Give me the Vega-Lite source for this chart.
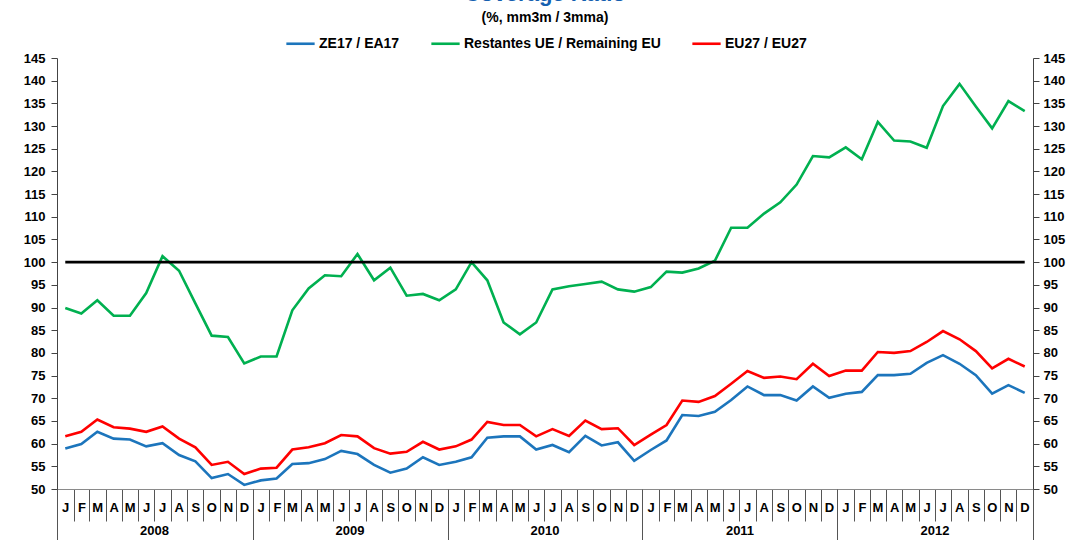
{
  "$schema": "https://vega.github.io/schema/vega-lite/v6.json",
  "width": 976,
  "height": 431,
  "autosize": {"type": "none"},
  "padding": {"left": 57, "top": 58, "right": 39, "bottom": 51},
  "background": "white",
  "title": {
    "text": "Coverage Ratio",
    "subtitle": "(%, mm3m / 3mma)",
    "anchor": "middle",
    "font": "Liberation Sans",
    "fontSize": 22,
    "fontWeight": "bold",
    "color": "#1560B0",
    "subtitleFont": "Liberation Sans",
    "subtitleFontSize": 14,
    "subtitleFontWeight": "bold",
    "subtitleColor": "black",
    "subtitlePadding": 5,
    "offset": 2
  },
  "config": {
    "view": {"stroke": null},
    "axis": {
      "grid": false,
      "title": null,
      "labelFont": "Liberation Sans",
      "labelFontWeight": "bold",
      "labelFontSize": 13,
      "labelColor": "black",
      "domainColor": "#555555",
      "tickColor": "#444444",
      "labelOverlap": false,
      "labelFlush": false,
      "labelBound": false
    }
  },
  "datasets": {
    "main": [
      {"m": "2008-01-01", "ze": 58.9, "ue": 89.9, "eu": 61.6},
      {"m": "2008-02-01", "ze": 59.9, "ue": 88.7, "eu": 62.6},
      {"m": "2008-03-01", "ze": 62.6, "ue": 91.6, "eu": 65.3},
      {"m": "2008-04-01", "ze": 61.1, "ue": 88.2, "eu": 63.6},
      {"m": "2008-05-01", "ze": 60.9, "ue": 88.2, "eu": 63.3},
      {"m": "2008-06-01", "ze": 59.4, "ue": 93.2, "eu": 62.6},
      {"m": "2008-07-01", "ze": 60.1, "ue": 101.3, "eu": 63.8},
      {"m": "2008-08-01", "ze": 57.5, "ue": 98.1, "eu": 61.1},
      {"m": "2008-09-01", "ze": 56.1, "ue": 90.9, "eu": 59.2},
      {"m": "2008-10-01", "ze": 52.4, "ue": 83.8, "eu": 55.3},
      {"m": "2008-11-01", "ze": 53.3, "ue": 83.5, "eu": 56.0},
      {"m": "2008-12-01", "ze": 50.9, "ue": 77.7, "eu": 53.3},
      {"m": "2009-01-01", "ze": 51.9, "ue": 79.2, "eu": 54.5},
      {"m": "2009-02-01", "ze": 52.3, "ue": 79.2, "eu": 54.7},
      {"m": "2009-03-01", "ze": 55.5, "ue": 89.4, "eu": 58.7},
      {"m": "2009-04-01", "ze": 55.7, "ue": 94.2, "eu": 59.2},
      {"m": "2009-05-01", "ze": 56.6, "ue": 97.1, "eu": 60.1},
      {"m": "2009-06-01", "ze": 58.4, "ue": 96.9, "eu": 61.9},
      {"m": "2009-07-01", "ze": 57.7, "ue": 101.8, "eu": 61.6},
      {"m": "2009-08-01", "ze": 55.3, "ue": 96.0, "eu": 59.0},
      {"m": "2009-09-01", "ze": 53.6, "ue": 98.8, "eu": 57.8},
      {"m": "2009-10-01", "ze": 54.5, "ue": 92.6, "eu": 58.2},
      {"m": "2009-11-01", "ze": 57.0, "ue": 93.0, "eu": 60.4},
      {"m": "2009-12-01", "ze": 55.3, "ue": 91.6, "eu": 58.7},
      {"m": "2010-01-01", "ze": 56.0, "ue": 94.0, "eu": 59.4},
      {"m": "2010-02-01", "ze": 57.0, "ue": 100.0, "eu": 60.9},
      {"m": "2010-03-01", "ze": 61.3, "ue": 96.0, "eu": 64.8},
      {"m": "2010-04-01", "ze": 61.6, "ue": 86.7, "eu": 64.1},
      {"m": "2010-05-01", "ze": 61.6, "ue": 84.1, "eu": 64.1},
      {"m": "2010-06-01", "ze": 58.7, "ue": 86.7, "eu": 61.6},
      {"m": "2010-07-01", "ze": 59.7, "ue": 94.0, "eu": 63.2},
      {"m": "2010-08-01", "ze": 58.1, "ue": 94.7, "eu": 61.7},
      {"m": "2010-09-01", "ze": 61.7, "ue": 95.2, "eu": 65.1},
      {"m": "2010-10-01", "ze": 59.6, "ue": 95.7, "eu": 63.2},
      {"m": "2010-11-01", "ze": 60.3, "ue": 94.0, "eu": 63.4},
      {"m": "2010-12-01", "ze": 56.2, "ue": 93.5, "eu": 59.7},
      {"m": "2011-01-01", "ze": 58.6, "ue": 94.5, "eu": 62.0},
      {"m": "2011-02-01", "ze": 60.7, "ue": 97.9, "eu": 64.1},
      {"m": "2011-03-01", "ze": 66.3, "ue": 97.7, "eu": 69.5},
      {"m": "2011-04-01", "ze": 66.1, "ue": 98.6, "eu": 69.2},
      {"m": "2011-05-01", "ze": 67.0, "ue": 100.3, "eu": 70.5},
      {"m": "2011-06-01", "ze": 69.6, "ue": 107.6, "eu": 73.2},
      {"m": "2011-07-01", "ze": 72.6, "ue": 107.6, "eu": 76.0},
      {"m": "2011-08-01", "ze": 70.7, "ue": 110.7, "eu": 74.5},
      {"m": "2011-09-01", "ze": 70.7, "ue": 113.2, "eu": 74.8},
      {"m": "2011-10-01", "ze": 69.5, "ue": 117.1, "eu": 74.2},
      {"m": "2011-11-01", "ze": 72.6, "ue": 123.4, "eu": 77.6},
      {"m": "2011-12-01", "ze": 70.1, "ue": 123.1, "eu": 74.9},
      {"m": "2012-01-01", "ze": 71.0, "ue": 125.3, "eu": 76.1},
      {"m": "2012-02-01", "ze": 71.4, "ue": 122.7, "eu": 76.1},
      {"m": "2012-03-01", "ze": 75.1, "ue": 130.9, "eu": 80.2},
      {"m": "2012-04-01", "ze": 75.1, "ue": 126.8, "eu": 80.0},
      {"m": "2012-05-01", "ze": 75.4, "ue": 126.6, "eu": 80.4},
      {"m": "2012-06-01", "ze": 77.8, "ue": 125.2, "eu": 82.4},
      {"m": "2012-07-01", "ze": 79.5, "ue": 134.4, "eu": 84.8},
      {"m": "2012-08-01", "ze": 77.6, "ue": 139.3, "eu": 83.0},
      {"m": "2012-09-01", "ze": 75.1, "ue": 134.3, "eu": 80.4},
      {"m": "2012-10-01", "ze": 71.0, "ue": 129.5, "eu": 76.6},
      {"m": "2012-11-01", "ze": 72.9, "ue": 135.5, "eu": 78.7},
      {"m": "2012-12-01", "ze": 71.2, "ue": 133.3, "eu": 77.0}
    ],
    "ref": [
      {"m": "2008-01-01", "value": 100},
      {"m": "2012-12-01", "value": 100}
    ]
  },
  "layer": [
    {
      "data": {"name": "main"},
      "transform": [{"fold": ["ze", "ue", "eu"], "as": ["series", "value"]}],
      "mark": {"type": "line", "strokeWidth": 2.6},
      "encoding": {
        "x": {
          "field": "m",
          "timeUnit": "utcyearmonth",
          "type": "temporal",
          "bandPosition": 0.5,
          "scale": {
            "type": "utc",
            "nice": false,
            "domain": [
              {"year": 2008, "month": 1, "date": 1, "utc": true},
              {"year": 2013, "month": 1, "date": 1, "utc": true}
            ]
          },
          "axis": {
            "orient": "bottom",
            "tickCount": {"interval": "month", "step": 1},
            "format": "%b",
            "labelExpr": "utcyear(datum.value) >= 2013 ? '' : substring(datum.label, 0, 1)",
            "labelOffset": 8,
            "tickSize": 32,
            "labelPadding": -20,
            "labelAlign": "center",
            "domainColor": "#8a8a8a",
            "tickColor": "#555555"
          }
        },
        "y": {
          "field": "value",
          "type": "quantitative",
          "scale": {"domain": [50, 145], "nice": false, "zero": false},
          "axis": {
            "orient": "left",
            "values": [50, 55, 60, 65, 70, 75, 80, 85, 90, 95, 100, 105, 110, 115, 120, 125, 130, 135, 140, 145],
            "tickSize": 6,
            "labelPadding": 6,
            "domainColor": "#444444"
          }
        },
        "color": {
          "field": "series",
          "type": "nominal",
          "scale": {"domain": ["ze", "ue", "eu"], "range": ["#1C75BC", "#00B050", "#FF0000"]},
          "legend": {
            "orient": "none",
            "legendX": 228,
            "legendY": -30,
            "direction": "horizontal",
            "title": null,
            "symbolType": "stroke",
            "symbolSize": 800,
            "symbolStrokeWidth": 2.6,
            "labelFont": "Liberation Sans",
            "labelFontSize": 14,
            "labelFontWeight": "bold",
            "labelColor": "black",
            "labelLimit": 0,
            "labelOffset": 3,
            "columnPadding": 26,
            "labelExpr": "datum.value == 'ze' ? 'ZE17 / EA17' : datum.value == 'ue' ? 'Restantes UE / Remaining EU' : 'EU27 / EU27'"
          }
        }
      }
    },
    {
      "data": {"name": "ref"},
      "mark": {"type": "line", "color": "black", "strokeWidth": 2.6},
      "encoding": {
        "x": {
          "field": "m",
          "timeUnit": "utcyearmonth",
          "type": "temporal",
          "bandPosition": 0.5,
          "axis": {
            "orient": "bottom",
            "tickCount": {"interval": "year", "step": 1},
            "format": "%Y",
            "labelExpr": "utcyear(datum.value) >= 2013 ? '' : datum.label",
            "labelOffset": 97,
            "tickSize": 51,
            "labelPadding": -16,
            "labelAlign": "center",
            "domain": false,
            "tickColor": "#555555"
          }
        },
        "y": {
          "field": "value",
          "type": "quantitative",
          "axis": {
            "orient": "right",
            "values": [50, 55, 60, 65, 70, 75, 80, 85, 90, 95, 100, 105, 110, 115, 120, 125, 130, 135, 140, 145],
            "tickSize": 6,
            "labelPadding": 4,
            "domainColor": "#444444"
          }
        }
      }
    }
  ],
  "resolve": {"axis": {"x": "independent", "y": "independent"}}
}
